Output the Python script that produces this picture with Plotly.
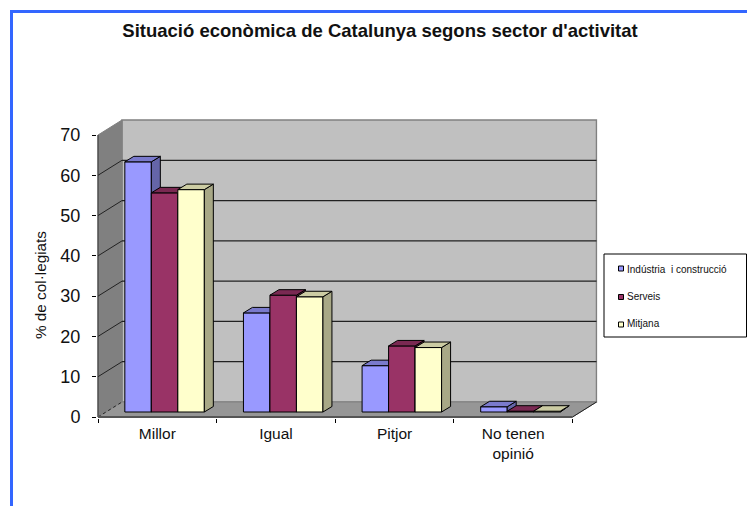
import plotly.graph_objects as go

categories = ["Millor", "Igual", "Pitjor", "No tenen<br>opinió"]
series_names = ["Indústria  i construcció", "Serveis", "Mitjana"]
industria = [62.1, 24.6, 11.5, 1.3]
serveis = [54.4, 29.0, 16.4, 0.2]
mitjana = [55.2, 28.6, 16.0, 0.2]
y_ticks = [0, 10, 20, 30, 40, 50, 60, 70]

face = ["#9999FF", "#993366", "#FFFFCC"]
top = ["#7A7ACC", "#7A2952", "#CCCCA3"]
side = ["#6565A8", "#652244", "#A8A886"]

W, H = 747, 506
L, R, T, B = 98.0, 572.5, 135.0, 417.0
ux = (R - L) / 4
uy = (B - T) / 70
DX, DY = 24 / ux, 15 / uy        # depth of the floor, in axis units
BW = 26.5 / ux                   # bar width
BDX, BDY = 9 / ux, 5.5 / uy      # depth of a bar
OX, OY = 7.5 / ux, 5 / uy        # front plane of the bars
PAD = 1.0                        # px kept round the drawing so edge lines are not clipped

ymax = y_ticks[-1]
n = len(categories)
x_range = [-PAD / ux, n + DX + PAD / ux]
y_range = [-PAD / uy, ymax + DY + PAD / uy]
x_domain = [(L - PAD) / W, (R + 24 + PAD) / W]
y_domain = [1 - (B + PAD) / H, 1 - (T - 15 - PAD) / H]

fig = go.Figure()
all_values = [industria, serveis, mitjana]
for s, vals in enumerate(all_values):
    suffix = "" if s == 0 else str(s + 1)
    xa, ya = "x" + suffix, "y" + suffix
    xs = [i + 0.5 + OX + (s - 1) * BW - 0.002 for i in range(len(vals))]
    fig.add_trace(go.Bar(x=xs, y=vals, base=OY, width=BW, name=series_names[s],
                         marker=dict(color=face[s], line=dict(color="black", width=1)),
                         xaxis=xa, yaxis=ya, showlegend=False))
    for x0, v in zip(xs, vals):
        xl, xr = x0 - BW / 2, x0 + BW / 2
        yt = OY + v
        fig.add_trace(go.Scatter(
            x=[xr, xr + BDX, xr + BDX, xr, xr], y=[OY, OY + BDY, yt + BDY, yt, OY],
            mode="lines", fill="toself", fillcolor=side[s], line=dict(color="black", width=1),
            xaxis=xa, yaxis=ya, showlegend=False, hoverinfo="skip", cliponaxis=False))
        fig.add_trace(go.Scatter(
            x=[xl, xr, xr + BDX, xl + BDX, xl], y=[yt, yt, yt + BDY, yt + BDY, yt],
            mode="lines", fill="toself", fillcolor=top[s], line=dict(color="black", width=1),
            xaxis=xa, yaxis=ya, showlegend=False, hoverinfo="skip", cliponaxis=False))
    fig.add_trace(go.Scatter(
        x=[None], y=[None], mode="markers", name=series_names[s], legendgroup=series_names[s],
        marker=dict(symbol="square", size=1, color="rgba(0,0,0,0)", line=dict(width=0)),
        xaxis=xa, yaxis=ya))

shapes = []
def poly(pts, fill, line="#808080", w=1):
    path = "M" + "L".join(f"{x},{y}" for x, y in pts) + "Z"
    shapes.append(dict(type="path", path=path, xref="x", yref="y", fillcolor=fill,
                       line=dict(color=line, width=w), layer="below"))

def seg(x0, y0, x1, y1, color="#222222", w=1, dash="solid"):
    shapes.append(dict(type="line", xref="x", yref="y", x0=x0, x1=x1, y0=y0, y1=y1,
                       line=dict(color=color, width=w, dash=dash), layer="below"))

poly([(DX, DY), (n + DX, DY), (n + DX, ymax + DY), (DX, ymax + DY)], "#C0C0C0", w=1.5)
poly([(0, 0), (DX, DY), (DX, ymax + DY), (0, ymax)], "#808080")
poly([(0, 0), (n, 0), (n + DX, DY), (DX, DY)], "#969696")
for v in y_ticks:
    if v > 0 and v < ymax:
        seg(DX, v + DY, n + DX, v + DY, w=1.2)
    if v < ymax:
        seg(0, v, DX, v + DY, dash="solid" if v else "dot")
seg(n, 0, n + DX, DY)
seg(0, 0, 0, ymax, color="#333333")
seg(0, 0, n, 0, color="#555555", w=2)

# outer frame
FRAME = "#3366FF"
shapes.append(dict(type="line", xref="paper", yref="paper", x0=11.5 / W, x1=11.5 / W,
                   y0=0, y1=1 - 10 / H, line=dict(color=FRAME, width=3)))
shapes.append(dict(type="line", xref="paper", yref="paper", x0=10 / W, x1=1,
                   y0=1 - 11.5 / H, y1=1 - 11.5 / H, line=dict(color=FRAME, width=3)))
# legend box and swatches
shapes.append(dict(type="rect", xref="paper", yref="paper", x0=604 / W, x1=746.5 / W,
                   y0=1 - 337 / H, y1=1 - 254 / H, fillcolor="white",
                   line=dict(color="black", width=1), layer="above"))
for s, yc in enumerate([268.5, 297, 324.5]):
    shapes.append(dict(type="rect", xref="paper", yref="paper", x0=618.5 / W, x1=623.5 / W,
                       y0=1 - (yc + 2.5) / H, y1=1 - (yc - 2.5) / H, fillcolor=face[s],
                       line=dict(color="black", width=1), layer="above"))

font = "Liberation Sans"
layout = dict(
    width=W, height=H, margin=dict(l=0, r=0, t=0, b=0, autoexpand=False),
    paper_bgcolor="white", plot_bgcolor="white",
    font=dict(family=font, color="#111111"),
    barmode="overlay", shapes=shapes,
    title=dict(text="<b>Situació econòmica de Catalunya segons sector d'activitat</b>",
               x=380 / W, xanchor="center", y=1 - 31 / H, yanchor="middle",
               font=dict(size=18.5, family=font, color="#111111")),
    xaxis=dict(domain=x_domain, range=x_range, tickmode="array",
               tickvals=[i + 0.5 for i in range(n)], ticktext=categories, ticks="",
               tickfont=dict(size=15.5), ticklabelstandoff=4, showgrid=False, zeroline=False,
               showline=False, automargin=False,
               minor=dict(tickmode="array", tickvals=list(range(n + 1)), ticks="outside",
                          ticklen=4, tickcolor="black", tickwidth=1, showgrid=False)),
    yaxis=dict(domain=y_domain, range=y_range, tickmode="array", tickvals=y_ticks,
               ticks="outside", ticklen=4, tickcolor="black", tickfont=dict(size=18),
               showgrid=False, zeroline=False, showline=False, automargin=False,
               ticklabelstandoff=8),
    annotations=[dict(text="% de col·legiats", textangle=-90, xref="paper", yref="paper",
                      x=40 / W, y=1 - 285 / H, xanchor="center", yanchor="middle",
                      showarrow=False, font=dict(size=15.3, family=font, color="#111111"))],
    legend=dict(x=587 / W, y=1 - 255 / H, xanchor="left", yanchor="top", bgcolor="rgba(0,0,0,0)",
                borderwidth=0, font=dict(size=10, family=font),
                tracegroupgap=8, traceorder="grouped"),
)
for i in (2, 3):
    layout[f"xaxis{i}"] = dict(overlaying="x", range=x_range, visible=False)
    layout[f"yaxis{i}"] = dict(overlaying="y", range=y_range, visible=False)
fig.update_layout(**layout)
fig.write_html("out.html", post_script="document.body.style.margin='0';",
               config=dict(displayModeBar=False))
